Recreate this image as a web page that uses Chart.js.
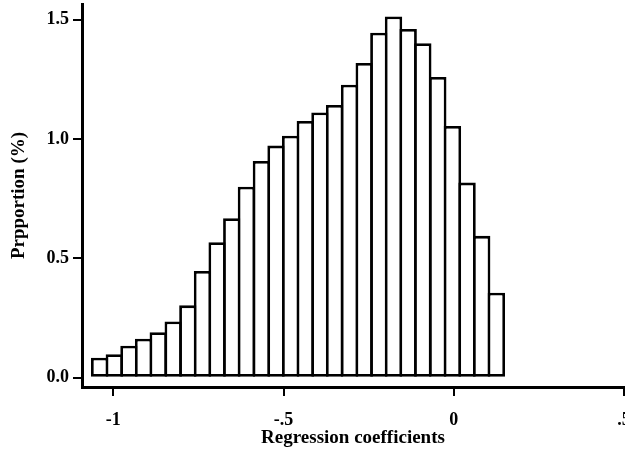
<!DOCTYPE html>
<html>
<head>
<meta charset="utf-8">
<script src="https://cdn.jsdelivr.net/npm/chart.js@4"></script>
<style>
  html, body { margin: 0; padding: 0; background: #fff; overflow: hidden; }
  #wrap { width: 625px; height: 449px; overflow: hidden; }
</style>
</head>
<body>
<div id="wrap"><canvas id="chart" width="627" height="449"></canvas></div>
<script>
// bin centres of the histogram (regression coefficients)
const binCenters = [
    -1.040, -0.997, -0.954, -0.911, -0.868, -0.824, -0.781, -0.738,
    -0.695, -0.652, -0.609, -0.565, -0.522, -0.479, -0.436, -0.393,
    -0.350, -0.306, -0.263, -0.220, -0.177, -0.134, -0.091, -0.047,
    -0.004, 0.039, 0.082, 0.125
];
// proportion (%) of each bin
const proportions = [
    0.084, 0.098, 0.134, 0.163, 0.190, 0.235, 0.303, 0.447,
    0.567, 0.668, 0.800, 0.908, 0.972, 1.013, 1.075, 1.111,
    1.142, 1.227, 1.318, 1.445, 1.513, 1.460, 1.401, 1.259,
    1.054, 0.817, 0.594, 0.356
];
const xTickValues = [-1, -0.5, 0, 0.5];
const xTickLabels = ['-1', '-.5', '0', '.5'];
const yTickValues = [0, 0.5, 1, 1.5];
const yTickLabels = ['0.0', '0.5', '1.0', '1.5'];

const serif = { family: "'Liberation Serif', 'Times New Roman', serif", size: 18, weight: 'bold' };
const titleFont = { family: "'Liberation Serif', 'Times New Roman', serif", size: 19, weight: 'bold' };

const ctx = document.getElementById('chart').getContext('2d');
const histChart = new Chart(ctx, {
    type: 'bar',
    data: {
        datasets: [{
            label: 'Proportion',
            data: binCenters.map((x, i) => ({ x: x, y: proportions[i] })),
            backgroundColor: '#ffffff',
            borderColor: '#000000',
            borderWidth: 2.8,
            borderSkipped: false,
            barPercentage: 1.19, // bars overlap so shared edges are one line
            categoryPercentage: 1
        }]
    },
    options: {
        responsive: false,
        animation: false,
        layout: {
            padding: { left: 0, right: 3, top: 4, bottom: 0 }
        },
        plugins: {
            legend: { display: false },
            tooltip: { enabled: false }
        },
        scales: {
            x: {
                type: 'linear',
                min: -1.092,
                max: 0.5,
                offset: false,
                afterBuildTicks: function(scale) {
                    scale.ticks = xTickValues.map(v => ({ value: v }));
                },
                afterFit: function(scale) {
                    scale.height = 62;
                    scale.paddingLeft = 0;
                    scale.paddingRight = 0;
                },
                grid: {
                    display: true,
                    drawOnChartArea: false,
                    drawTicks: true,
                    tickLength: 9,
                    lineWidth: 2,
                    color: '#000',
                    offset: false
                },
                border: { display: true, color: '#000', width: 3 },
                ticks: {
                    autoSkip: false,
                    maxRotation: 0,
                    padding: 14,
                    color: '#000',
                    font: serif,
                    callback: function(value, index) {
                        return xTickLabels[index];
                    }
                },
                title: {
                    display: true,
                    text: 'Regression coefficients',
                    color: '#000',
                    font: titleFont,
                    padding: { top: 0, bottom: 0 }
                }
            },
            y: {
                type: 'linear',
                min: -0.039,
                max: 1.565,
                afterBuildTicks: function(scale) {
                    scale.ticks = yTickValues.map(v => ({ value: v }));
                },
                afterFit: function(scale) {
                    scale.width = 82;
                    scale.paddingTop = 0;
                    scale.paddingBottom = 0;
                },
                grid: {
                    display: true,
                    drawOnChartArea: false,
                    drawTicks: true,
                    tickLength: 9,
                    lineWidth: 2,
                    color: '#000'
                },
                border: { display: true, color: '#000', width: 3 },
                ticks: {
                    autoSkip: false,
                    padding: 4,
                    color: '#000',
                    font: serif,
                    callback: function(value, index) {
                        return yTickLabels[index];
                    }
                },
                title: {
                    display: true,
                    text: 'Prpportion (%)',
                    color: '#000',
                    font: titleFont,
                    padding: { top: 8, bottom: 0 }
                }
            }
        }
    }
});
</script>
</body>
</html>
